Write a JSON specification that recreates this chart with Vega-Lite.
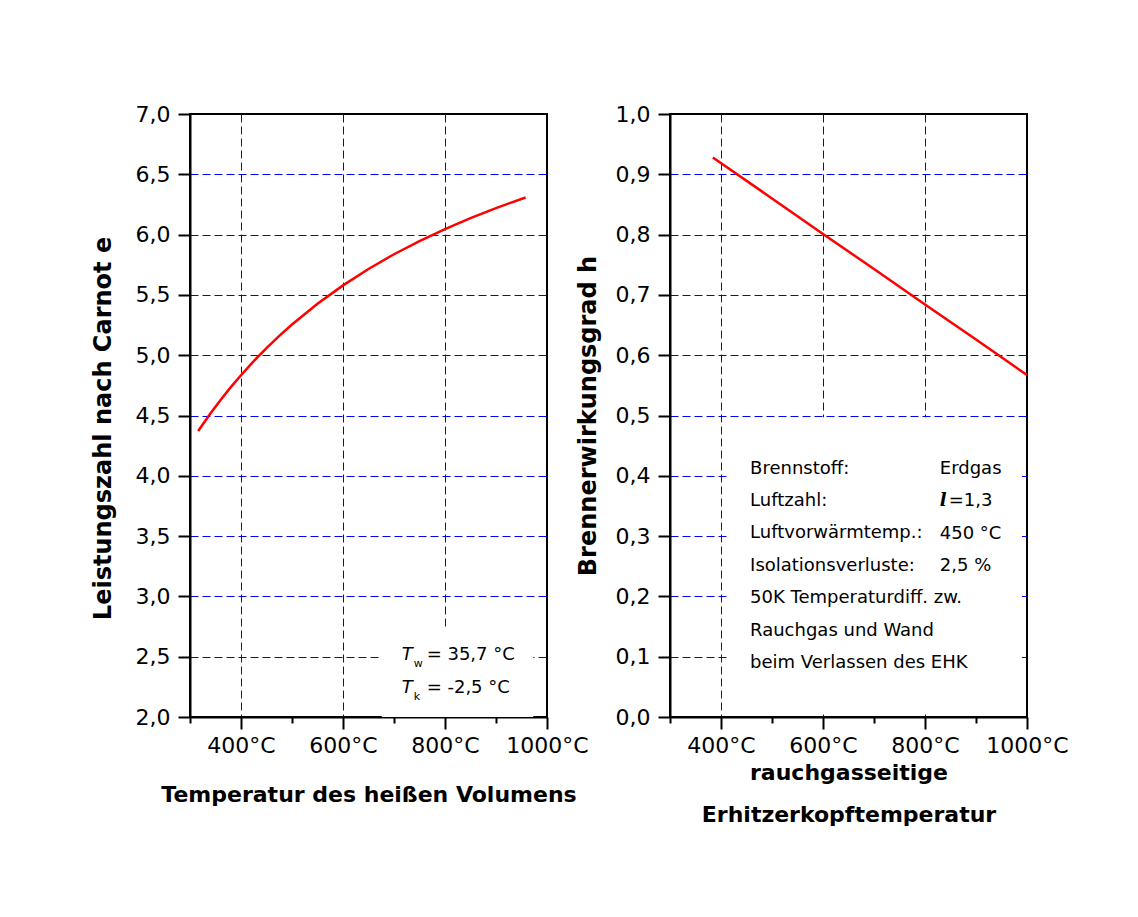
{
  "$schema": "https://vega.github.io/schema/vega-lite/v6.json",
  "padding": {"left": 90, "top": 102, "right": 10, "bottom": 10},
  "background": "white",
  "datasets": {
    "carnot": [
      {"temp": 316, "eps": 4.371}, {"temp": 340, "eps": 4.516}, {"temp": 360, "eps": 4.629},
      {"temp": 380, "eps": 4.735}, {"temp": 400, "eps": 4.834}, {"temp": 425, "eps": 4.951},
      {"temp": 450, "eps": 5.059}, {"temp": 475, "eps": 5.160}, {"temp": 500, "eps": 5.255},
      {"temp": 550, "eps": 5.427}, {"temp": 600, "eps": 5.579}, {"temp": 650, "eps": 5.715},
      {"temp": 700, "eps": 5.837}, {"temp": 750, "eps": 5.946}, {"temp": 800, "eps": 6.046},
      {"temp": 850, "eps": 6.137}, {"temp": 900, "eps": 6.220}, {"temp": 958, "eps": 6.308}
    ],
    "brenner": [
      {"temp": 384, "eta": 0.928}, {"temp": 500, "eta": 0.860}, {"temp": 600, "eta": 0.801},
      {"temp": 700, "eta": 0.743}, {"temp": 800, "eta": 0.684}, {"temp": 900, "eta": 0.626},
      {"temp": 1000, "eta": 0.567}
    ],
    "one": [{}]
  },
  "hconcat": [
    {
      "width": 357,
      "height": 603,
      "layer": [
        {
          "data": {"name": "carnot"},
          "mark": {"type": "line", "color": "#ff0000", "strokeWidth": 2.5},
          "encoding": {
            "x": {
              "field": "temp", "type": "quantitative",
              "scale": {"domain": [300, 1000], "nice": false, "zero": false},
              "axis": {
                "values": [300, 400, 500, 600, 700, 800, 900, 1000],
                "labelExpr": "datum.value % 200 == 0 ? datum.value + '°C' : ''",
                "tickSize": {"condition": {"test": "datum.value % 200 == 0", "value": 12}, "value": 6},
                "grid": true,
                "gridColor": {"condition": {"test": "datum.value % 200 == 0 && datum.value < 1000", "value": "#0000ff"}, "value": "transparent"},
                "labelPadding": 6,
                "title": "Temperatur des heißen Volumens",
                "titlePadding": 28
              }
            },
            "y": {
              "field": "eps", "type": "quantitative",
              "scale": {"domain": [2, 7], "nice": false, "zero": false},
              "axis": {
                "values": [2, 2.25, 2.5, 2.75, 3, 3.25, 3.5, 3.75, 4, 4.25, 4.5, 4.75, 5, 5.25, 5.5, 5.75, 6, 6.25, 6.5, 6.75, 7],
                "labelExpr": "round(datum.value * 4) % 2 == 0 ? replace(format(datum.value, '.1f'), '.', ',') : ''",
                "tickSize": {"condition": {"test": "round(datum.value * 4) % 2 == 0", "value": 12}, "value": 6},
                "grid": true,
                "gridColor": {"condition": {"test": "round(datum.value * 4) % 2 == 0 && datum.value > 2.1 && datum.value < 6.9", "value": "#0000ff"}, "value": "transparent"},
                "labelPadding": 8,
                "title": "Leistungszahl nach Carnot     e",
                "titleFontSize": 24,
                "titlePadding": 20,
                "titleY": 314
              }
            }
          }
        },
        {
          "data": {"name": "one"},
          "mark": {"type": "rect", "fill": "white"},
          "encoding": {
            "x": {"datum": 676, "type": "quantitative"},
            "x2": {"datum": 973},
            "y": {"datum": 2.735, "type": "quantitative"},
            "y2": {"datum": 2.0}
          }
        },
        {
          "data": {"name": "one"},
          "mark": {"type": "text", "text": ["T", "T"], "font": "DejaVu Sans", "fontStyle": "italic", "fontSize": 18, "lineHeight": 32.7, "align": "left", "baseline": "middle", "color": "black"},
          "encoding": {"x": {"datum": 715, "type": "quantitative"}, "y": {"datum": 2.514, "type": "quantitative"}}
        },
        {
          "data": {"name": "one"},
          "mark": {"type": "text", "text": ["w", "k"], "font": "DejaVu Sans", "fontSize": 11, "lineHeight": 32.7, "align": "left", "baseline": "middle", "dx": 12, "dy": 9, "color": "black"},
          "encoding": {"x": {"datum": 715, "type": "quantitative"}, "y": {"datum": 2.514, "type": "quantitative"}}
        },
        {
          "data": {"name": "one"},
          "mark": {"type": "text", "text": ["= 35,7 °C", "= -2,5 °C"], "font": "DejaVu Sans", "fontSize": 18, "lineHeight": 32.7, "align": "left", "baseline": "middle", "dx": 25, "color": "black"},
          "encoding": {"x": {"datum": 715, "type": "quantitative"}, "y": {"datum": 2.514, "type": "quantitative"}}
        }
      ]
    },
    {
      "width": 357,
      "height": 603,
      "layer": [
        {
          "data": {"name": "brenner"},
          "mark": {"type": "line", "color": "#ff0000", "strokeWidth": 2.5},
          "encoding": {
            "x": {
              "field": "temp", "type": "quantitative",
              "scale": {"domain": [300, 1000], "nice": false, "zero": false},
              "axis": {
                "values": [300, 400, 500, 600, 700, 800, 900, 1000],
                "labelExpr": "datum.value % 200 == 0 ? datum.value + '°C' : ''",
                "tickSize": {"condition": {"test": "datum.value % 200 == 0", "value": 12}, "value": 6},
                "grid": true,
                "gridColor": {"condition": {"test": "datum.value % 200 == 0 && datum.value < 1000", "value": "#0000ff"}, "value": "transparent"},
                "labelPadding": 6,
                "title": ["rauchgasseitige", "Erhitzerkopftemperatur"],
                "titleLineHeight": 42,
                "titlePadding": 6
              }
            },
            "y": {
              "field": "eta", "type": "quantitative",
              "scale": {"domain": [0, 1], "nice": false},
              "axis": {
                "values": [0, 0.05, 0.1, 0.15, 0.2, 0.25, 0.3, 0.35, 0.4, 0.45, 0.5, 0.55, 0.6, 0.65, 0.7, 0.75, 0.8, 0.85, 0.9, 0.95, 1],
                "labelExpr": "round(datum.value * 20) % 2 == 0 ? replace(format(datum.value, '.1f'), '.', ',') : ''",
                "tickSize": {"condition": {"test": "round(datum.value * 20) % 2 == 0", "value": 12}, "value": 6},
                "grid": true,
                "gridColor": {"condition": {"test": "round(datum.value * 20) % 2 == 0 && datum.value > 0.05 && datum.value < 0.95", "value": "#0000ff"}, "value": "transparent"},
                "labelPadding": 8,
                "title": "Brennerwirkungsgrad   h",
                "titleFontSize": 24,
                "titlePadding": 15
              }
            }
          }
        },
        {
          "data": {"name": "one"},
          "mark": {"type": "rect", "fill": "white"},
          "encoding": {
            "x": {"datum": 417, "type": "quantitative"},
            "x2": {"datum": 990},
            "y": {"datum": 0.497, "type": "quantitative"},
            "y2": {"datum": 0.006}
          }
        },
        {
          "data": {"name": "one"},
          "mark": {"type": "text", "text": ["Brennstoff:", "Luftzahl:", "Luftvorwärmtemp.:", "Isolationsverluste:", "50K Temperaturdiff. zw.", "Rauchgas und Wand", "beim Verlassen des EHK"], "font": "DejaVu Sans", "fontSize": 18, "lineHeight": 32.4, "align": "left", "baseline": "middle", "color": "black"},
          "encoding": {"x": {"datum": 457, "type": "quantitative"}, "y": {"datum": 0.412, "type": "quantitative"}}
        },
        {
          "data": {"name": "one"},
          "mark": {"type": "text", "text": "Erdgas", "font": "DejaVu Sans", "fontSize": 18, "align": "left", "baseline": "middle", "color": "black"},
          "encoding": {"x": {"datum": 829, "type": "quantitative"}, "y": {"datum": 0.412, "type": "quantitative"}}
        },
        {
          "data": {"name": "one"},
          "mark": {"type": "text", "text": ["450 °C", "2,5 %"], "font": "DejaVu Sans", "fontSize": 18, "lineHeight": 32.4, "align": "left", "baseline": "middle", "color": "black"},
          "encoding": {"x": {"datum": 829, "type": "quantitative"}, "y": {"datum": 0.304, "type": "quantitative"}}
        },
        {
          "data": {"name": "one"},
          "mark": {"type": "text", "text": "l", "font": "DejaVu Serif", "fontStyle": "italic", "fontWeight": "bold", "fontSize": 18, "align": "left", "baseline": "middle", "color": "black"},
          "encoding": {"x": {"datum": 829, "type": "quantitative"}, "y": {"datum": 0.358, "type": "quantitative"}}
        },
        {
          "data": {"name": "one"},
          "mark": {"type": "text", "text": "=1,3", "font": "DejaVu Sans", "fontSize": 18, "align": "left", "baseline": "middle", "dx": 9, "color": "black"},
          "encoding": {"x": {"datum": 829, "type": "quantitative"}, "y": {"datum": 0.358, "type": "quantitative"}}
        }
      ]
    }
  ],
  "spacing": 123,
  "bounds": "flush",
  "config": {
    "view": {"stroke": "black", "strokeWidth": 2},
    "axis": {
      "grid": false,
      "domainColor": "black", "domainWidth": 2,
      "tickColor": "black", "tickWidth": 2,
      "labelFont": "DejaVu Sans", "labelFontSize": 22, "labelColor": "black",
      "titleFont": "DejaVu Sans", "titleFontSize": 22, "titleFontWeight": "bold", "titleColor": "black",
      "gridColor": "#0000ff", "gridDash": [8, 4], "gridWidth": 1,
      "labelOverlap": false, "labelFlush": false
    }
  }
}
